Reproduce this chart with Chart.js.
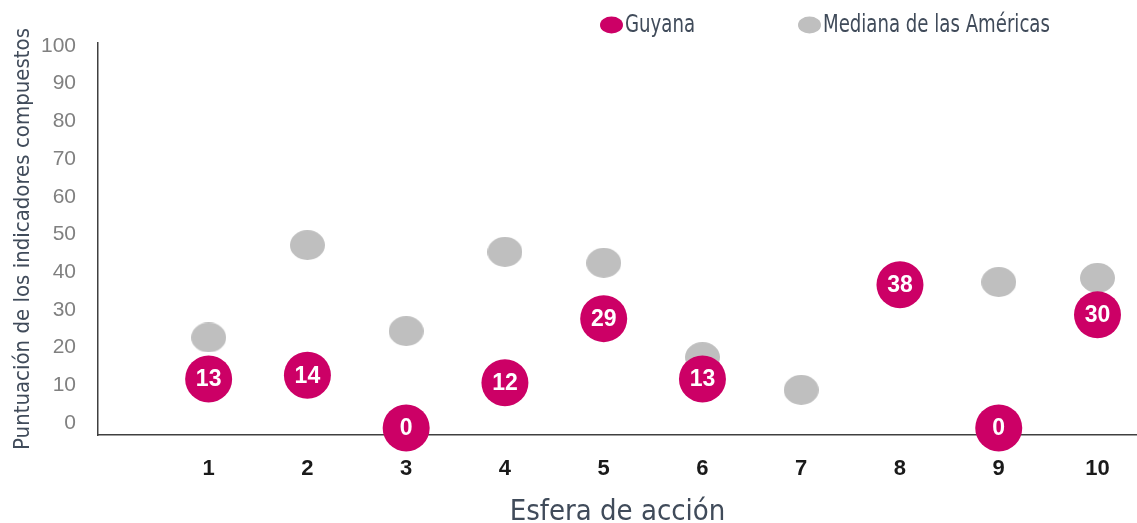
<!DOCTYPE html>
<html>
<head>
<meta charset="utf-8">
<script src="https://cdn.jsdelivr.net/npm/chart.js@4.4.1/dist/chart.umd.min.js"></script>
<style>
  html, body { margin: 0; padding: 0; background: #fff; overflow: hidden; }
  #wrap { width: 1137px; height: 523px; }
</style>
</head>
<body>
<div id="wrap"><canvas id="chart"></canvas></div>
<script>
// --- datos ---
const categories = [1, 2, 3, 4, 5, 6, 7, 8, 9, 10];
const guyana = [13, 14, 0, 12, 29, 13, null, 38, 0, 30];
const mediana = [24, 48.5, 25.7, 46.7, 43.8, 18.8, 10.1, null, 38.7, 39.8];
const yTicks = [0, 10, 20, 30, 40, 50, 60, 70, 80, 90, 100];
const seriesNames = ['Guyana', 'Mediana de las Américas'];

const MAGENTA = '#cc0066';
const GRAY = '#bfbfbf';
const TITLE_COLOR = '#404b5a';
const COND = '"DejaVu Sans Condensed", "DejaVu Sans", sans-serif';
const ARIAL = '"Liberation Sans", Arial, sans-serif';

// gris: elipse un poco más ancha que alta
function ellipseMarker(w, h, color) {
    const c = document.createElement('canvas');
    c.width = w; c.height = h;
    const g = c.getContext('2d');
    g.fillStyle = color;
    g.beginPath();
    g.ellipse(w / 2, h / 2, w / 2, h / 2, 0, 0, Math.PI * 2);
    g.fill();
    return c;
}

const toPoints = arr => categories.map((c, i) => ({ x: c, y: arr[i] }));

// etiquetas blancas dentro de los círculos de Guyana
const valueLabels = {
    id: 'valueLabels',
    afterDatasetsDraw(chart) {
        const ctx = chart.ctx;
        const meta = chart.getDatasetMeta(0);
        ctx.save();
        ctx.font = 'bold 23px ' + ARIAL;
        ctx.fillStyle = '#ffffff';
        ctx.textAlign = 'center';
        ctx.textBaseline = 'middle';
        meta.data.forEach((el, i) => {
            if (guyana[i] === null) return;
            ctx.fillText(String(guyana[i]), el.x, el.y + 1);
        });
        ctx.restore();
    }
};

// leyenda arriba (texto estrecho, como en el original)
const topLegend = {
    id: 'topLegend',
    afterDraw(chart) {
        const ctx = chart.ctx;
        const items = [
            { x: 600, color: MAGENTA, text: seriesNames[0] },
            { x: 798, color: GRAY, text: seriesNames[1] }
        ];
        ctx.save();
        ctx.font = '24px ' + COND;
        ctx.textBaseline = 'middle';
        ctx.textAlign = 'left';
        items.forEach(it => {
            ctx.fillStyle = it.color;
            ctx.beginPath();
            ctx.ellipse(it.x + 11.5, 25, 11.5, 8.5, 0, 0, Math.PI * 2);
            ctx.fill();
            ctx.fillStyle = TITLE_COLOR;
            ctx.save();
            ctx.translate(it.x + 25, 26);
            ctx.scale(0.84, 1);
            ctx.fillText(it.text, 0, 0);
            ctx.restore();
        });
        ctx.restore();
    }
};

new Chart(document.getElementById('chart'), {
    type: 'scatter',
    data: {
        datasets: [
            {
                label: seriesNames[0],
                data: toPoints(guyana),
                pointStyle: 'circle',
                pointRadius: 23.5,
                pointHoverRadius: 23.5,
                backgroundColor: MAGENTA,
                borderWidth: 0,
                clip: false
            },
            {
                label: seriesNames[1],
                data: toPoints(mediana),
                pointStyle: ellipseMarker(35, 30, GRAY),
                pointRadius: 16,
                backgroundColor: GRAY,
                borderWidth: 0,
                clip: false
            }
        ]
    },
    options: {
        responsive: true,
        maintainAspectRatio: false,
        animation: false,
        layout: { autoPadding: false, padding: { top: 43, left: 0, right: 0, bottom: 0 } },
        plugins: {
            legend: { display: false },
            tooltip: { enabled: false }
        },
        scales: {
            x: {
                type: 'linear',
                min: -0.12,
                max: 10.4,
                afterBuildTicks: s => { s.ticks = categories.map(v => ({ value: v })); },
                grid: { display: false, drawTicks: false },
                border: { display: true, color: '#404040', width: 1.5 },
                ticks: {
                    padding: 21,
                    color: '#1a1a1a',
                    font: { family: ARIAL, size: 22, weight: 'bold' }
                },
                title: {
                    display: true,
                    text: 'Esfera de acción',
                    color: TITLE_COLOR,
                    font: { family: COND, size: 29 },
                    padding: { top: -8.8, bottom: -6.4 }
                }
            },
            y: {
                type: 'linear',
                min: -1.86,
                max: 102.1,
                afterBuildTicks: s => { s.ticks = yTicks.map(v => ({ value: v })); },
                grid: { display: false, drawTicks: false },
                border: { display: true, color: '#404040', width: 1.5 },
                ticks: {
                    padding: 22,
                    labelOffset: -5,
                    color: '#808080',
                    font: { family: ARIAL, size: 21 }
                },
                title: {
                    display: true,
                    text: 'Puntuación de los indicadores compuestos',
                    color: TITLE_COLOR,
                    font: { family: COND, size: 22 },
                    padding: { top: 9.8, bottom: -17.2 }
                }
            }
        }
    },
    plugins: [valueLabels, topLegend]
});
</script>
</body>
</html>
